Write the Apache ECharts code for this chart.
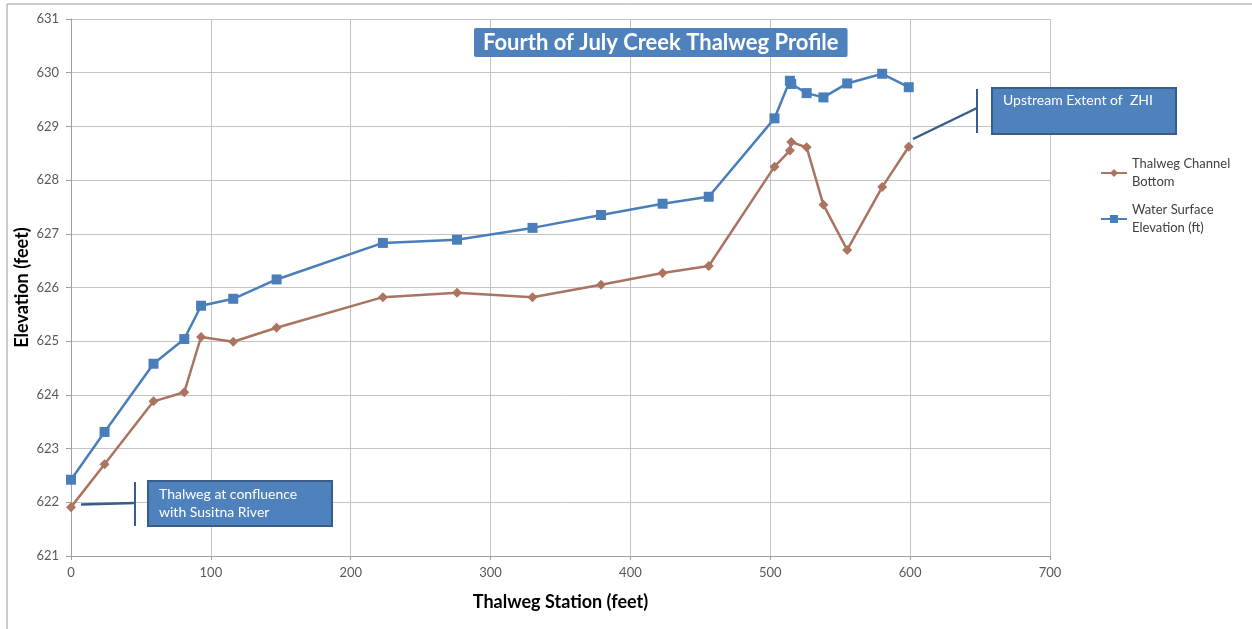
<!DOCTYPE html>
<html>
<head>
<meta charset="utf-8">
<script src="https://cdn.jsdelivr.net/npm/echarts@6/dist/echarts.min.js"></script>
<style>
html,body{margin:0;padding:0;background:#fff;}
#chart{width:1252px;height:629px;}
</style>
</head>
<body>
<div id="chart"></div>
<script>
// Data
var stations = [0, 24, 59, 81, 93, 116, 147, 223, 276, 330, 379, 423, 456, 503, 514, 515, 526, 538, 555, 580, 599];
var channelBottom = [621.91, 622.71, 623.88, 624.05, 625.08, 624.99, 625.25, 625.82, 625.90, 625.82, 626.05, 626.27, 626.40, 628.25, 628.55, 628.71, 628.61, 627.54, 626.70, 627.87, 628.62];
var waterSurface = [622.42, 623.31, 624.58, 625.04, 625.66, 625.79, 626.15, 626.83, 626.89, 627.11, 627.35, 627.56, 627.69, 629.15, 629.85, 629.79, 629.62, 629.54, 629.80, 629.98, 629.73];
var xTicks = {min: 0, max: 700, interval: 100};
var yTicks = {min: 621, max: 631, interval: 1};
var seriesNames = ['Thalweg Channel Bottom', 'Water Surface Elevation (ft)'];
var legendLabels = {'Thalweg Channel Bottom': 'Thalweg Channel\nBottom', 'Water Surface Elevation (ft)': 'Water Surface\nElevation (ft)'};
var titleText = 'Fourth of July Creek Thalweg Profile';
var note1 = 'Upstream Extent of  ZHI';
var note2 = 'Thalweg at confluence\nwith Susitna River';

function pairs(xs, ys) { return xs.map(function (x, i) { return [x, ys[i]]; }); }

var FONT = 'Lato, "Open Sans", sans-serif';
var chart = echarts.init(document.getElementById('chart'));
chart.setOption({
  animation: false,
  textStyle: {fontFamily: FONT},
  title: {
    text: titleText,
    left: 474, top: 28,
    padding: [3, 9, 3, 9],
    backgroundColor: '#4F81BD',
    borderRadius: 2,
    textStyle: {color: '#fff', fontSize: 22, lineHeight: 23, fontWeight: 'bold', fontFamily: FONT}
  },
  grid: {left: 71, right: 202, top: 19, bottom: 73, containLabel: false, outerBoundsMode: 'none'},
  legend: {
    orient: 'vertical', left: 1100, top: 146, padding: 0,
    itemWidth: 26, itemHeight: 10, itemGap: -8,
    data: seriesNames,
    formatter: function (n) { return legendLabels[n]; },
    textStyle: {color: '#404040', fontSize: 13, lineHeight: 18, padding: [18, 0, 0, 0], fontFamily: FONT}
  },
  xAxis: {
    type: 'value', min: xTicks.min, max: xTicks.max, interval: xTicks.interval,
    name: 'Thalweg Station (feet)', nameLocation: 'middle', nameGap: 37, nameMoveOverlap: false,
    nameTextStyle: {fontSize: 18, fontWeight: 'bold', color: '#000'},
    axisLine: {show: true, lineStyle: {color: '#A0A0A0'}},
    axisTick: {show: true, length: 4, lineStyle: {color: '#A0A0A0'}},
    axisLabel: {color: '#595959', fontSize: 13, margin: 10},
    splitLine: {show: true, lineStyle: {color: '#C4C4C4'}}
  },
  yAxis: {
    type: 'value', min: yTicks.min, max: yTicks.max, interval: yTicks.interval,
    name: 'Elevation (feet)', nameLocation: 'middle', nameGap: 40, nameRotate: 90, nameMoveOverlap: false,
    nameTextStyle: {fontSize: 18, fontWeight: 'bold', color: '#000'},
    axisLine: {show: true, lineStyle: {color: '#A0A0A0'}},
    axisTick: {show: true, length: 5, lineStyle: {color: '#A0A0A0'}},
    axisLabel: {color: '#595959', fontSize: 13, margin: 12},
    splitLine: {show: true, lineStyle: {color: '#C4C4C4'}}
  },
  series: [
    {
      name: seriesNames[0], type: 'line', data: pairs(stations, channelBottom),
      symbol: 'diamond', symbolSize: 10,
      lineStyle: {color: '#AA7461', width: 2.5},
      itemStyle: {color: '#AA7461'}
    },
    {
      name: seriesNames[1], type: 'line', data: pairs(stations, waterSurface),
      symbol: 'rect', symbolSize: 10,
      lineStyle: {color: '#4A7EBB', width: 2.5},
      itemStyle: {color: '#4A7EBB'}
    }
  ],
  graphic: [
    {type: 'line', z: 100, shape: {x1: 7, y1: 4, x2: 1252, y2: 4}, style: {stroke: '#9A9A9A', lineWidth: 1}},
    {type: 'line', z: 100, shape: {x1: 7, y1: 4, x2: 7, y2: 629}, style: {stroke: '#9A9A9A', lineWidth: 1}},
    // upper callout
    {type: 'line', z: 100, shape: {x1: 977, y1: 89, x2: 977, y2: 133}, style: {stroke: '#385D8A', lineWidth: 2}},
    {type: 'line', z: 100, shape: {x1: 913, y1: 139, x2: 977, y2: 108}, style: {stroke: '#385D8A', lineWidth: 2.5}},
    {type: 'rect', z: 100, shape: {x: 992, y: 88, width: 184, height: 46}, style: {fill: '#4F81BD', stroke: '#385D8A', lineWidth: 2}},
    {type: 'text', z: 101, left: 1003, top: 93, style: {text: note1, fill: '#fff', fontSize: 14, fontFamily: FONT}},
    // lower callout
    {type: 'line', z: 100, shape: {x1: 135, y1: 482, x2: 135, y2: 526}, style: {stroke: '#385D8A', lineWidth: 2}},
    {type: 'line', z: 100, shape: {x1: 81, y1: 504.5, x2: 135, y2: 503}, style: {stroke: '#385D8A', lineWidth: 2.5}},
    {type: 'rect', z: 100, shape: {x: 148, y: 481, width: 184, height: 45}, style: {fill: '#4F81BD', stroke: '#385D8A', lineWidth: 2}},
    {type: 'text', z: 101, left: 159, top: 485, style: {text: note2, fill: '#fff', fontSize: 14, lineHeight: 18, fontFamily: FONT}}
  ]
});
</script>
</body>
</html>
